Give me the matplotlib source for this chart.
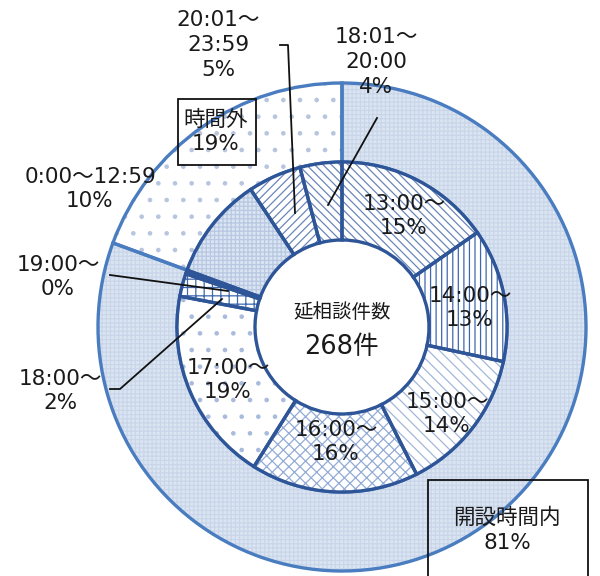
import matplotlib.pyplot as plt
from matplotlib.patches import Rectangle

plt.rcParams['font.family'] = ['DejaVu Sans', 'Noto Sans CJK JP']
plt.rcParams['hatch.linewidth'] = 0.9

# 相談件数 (延べ268件)
total = 268
outer_labels = ['開設時間内', '時間外']
outer_counts = [216, 52]

inner_labels = ['13:00～', '14:00～', '15:00～', '16:00～', '17:00～', '18:00～', '19:00～',
                '0:00～12:59', '20:01～\n23:59', '18:01～\n20:00']
inner_counts = [41, 35, 38, 44, 51, 6, 1, 27, 14, 11]

# ring geometry in pixel units
W, H = 600, 576
CX, CY = 342, H - 327
R_OUT, R_MID, R_IN = 244, 165, 87

outer_face = ['#dbe5f2', 'white']
outer_hatch = ['++++', '.']
outer_hcol = ['#c9d6ea', '#b7c5de']

inner_face = ['white', 'white', 'white', 'white', 'white', 'white', '#3b63a6',
              '#dbe5f2', 'white', 'white']
inner_hatch = ['\\\\\\\\', '|||', '\\\\\\', 'xxx', '.', '++', None,
               '++++', '////', '\\\\\\\\']
inner_hcol = ['#6a86b8', '#3f68ad', '#a3b7d8', '#93acd6', '#a9bbdc', '#3f68ad', '#3b63a6',
              '#b8c8e2', '#6a86b8', '#6a86b8']

fig = plt.figure(figsize=(W / 100, H / 100), dpi=100)
ax = fig.add_axes([0, 0, 1, 1])


def ring(counts, radius, width, faces, hatches, hcols, edge, lw):
    # hatched fill first, outline on top so hatch and edge can differ in colour
    wedges, _ = ax.pie(counts, radius=radius, center=(CX, CY), startangle=90,
                       counterclock=False, wedgeprops=dict(width=width, linewidth=0))
    for w, fc, h, hc in zip(wedges, faces, hatches, hcols):
        w.set_facecolor(fc)
        w.set_edgecolor(hc)
        w.set_hatch(h)
    ax.pie(counts, radius=radius, center=(CX, CY), startangle=90, counterclock=False,
           wedgeprops=dict(width=width, fill=False, edgecolor=edge, linewidth=lw))


ring(outer_counts, R_OUT, R_OUT - R_MID, outer_face, outer_hatch, outer_hcol, '#4a7cc0', 2.4)
ring(inner_counts, R_MID, R_MID - R_IN, inner_face, inner_hatch, inner_hcol, '#2e5597', 2.4)

ax.set_xlim(0, W)
ax.set_ylim(0, H)
ax.set_aspect('equal')
ax.axis('off')


def pct(v):
    return f'{round(v / total * 100)}%'


def label(x, y, s, size=15.5, **kw):
    ax.text(x, H - y, s, ha='center', va='center', fontsize=size, color='#1a1a1a',
            linespacing=1.3, **kw)


def leader(xs, ys):
    ax.plot(xs, [H - y for y in ys], color='#111111', lw=1.3)


# labels inside the inner ring
label(404, 216, f'{inner_labels[0]}\n{pct(inner_counts[0])}')
label(470, 308, f'{inner_labels[1]}\n{pct(inner_counts[1])}')
label(447, 414, f'{inner_labels[2]}\n{pct(inner_counts[2])}')
label(336, 442, f'{inner_labels[3]}\n{pct(inner_counts[3])}')
label(228, 380, f'{inner_labels[4]}\n{pct(inner_counts[4])}')

# labels outside with leader lines
label(58, 277, f'{inner_labels[6]}\n{pct(inner_counts[6])}')
leader([110, 228], [275, 291])
label(60, 391, f'{inner_labels[5]}\n{pct(inner_counts[5])}')
leader([110, 120, 222], [389, 389, 299])
label(90, 189, f'{inner_labels[7]}\n{pct(inner_counts[7])}')
label(218, 45, f'{inner_labels[8]}\n{pct(inner_counts[8])}')
leader([280, 288, 295], [45, 45, 213])
label(376, 62, f'{inner_labels[9]}\n{pct(inner_counts[9])}')
leader([377, 328], [118, 205])

# boxed outer-ring labels
label(216, 132, f'{outer_labels[1]}\n{pct(outer_counts[1])}')
ax.add_patch(Rectangle((178, H - 165), 78, 66, fill=False, edgecolor='#111111', lw=1.3))
label(507, 530, f'{outer_labels[0]}\n{pct(outer_counts[0])}')
ax.add_patch(Rectangle((428, H - 585), 160, 105, fill=False, edgecolor='#111111', lw=1.3))

# centre caption
label(CX, 313, '延相談件数', size=14)
label(CX, 347, f'{total}件', size=18.5)

fig.savefig('out.png', dpi=100)
